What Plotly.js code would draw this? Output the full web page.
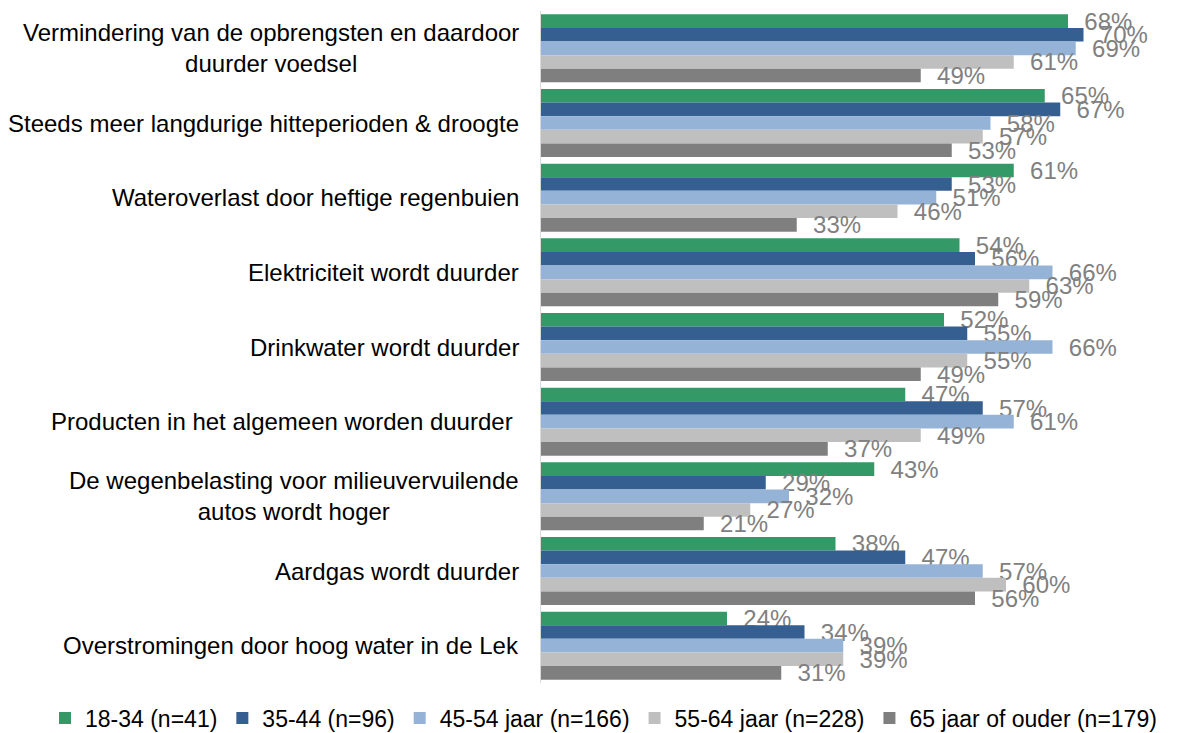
<!DOCTYPE html>
<html>
<head>
<meta charset="utf-8">
<script src="https://cdn.plot.ly/plotly-3.0.1.min.js"></script>
<style>html,body{margin:0;padding:0;background:#fff;}#chart{width:1179px;height:733px;}</style>
</head>
<body>
<div id="chart"></div>
<script>
const categories = [
  "Vermindering van de opbrengsten en daardoor<br>duurder voedsel",
  "Steeds meer langdurige hitteperioden & droogte",
  "Wateroverlast door heftige regenbuien",
  "Elektriciteit wordt duurder",
  "Drinkwater wordt duurder",
  "Producten in het algemeen worden duurder\u00a0",
  "De wegenbelasting voor milieuvervuilende<br>autos wordt hoger",
  "Aardgas wordt duurder",
  "Overstromingen door hoog water in de Lek"
];
const seriesNames = ["18-34 (n=41)", "35-44 (n=96)", "45-54 jaar (n=166)", "55-64 jaar (n=228)", "65 jaar of ouder (n=179)"];
const s18_34 = [0.68, 0.65, 0.61, 0.54, 0.52, 0.47, 0.43, 0.38, 0.24];
const s35_44 = [0.70, 0.67, 0.53, 0.56, 0.55, 0.57, 0.29, 0.47, 0.34];
const s45_54 = [0.69, 0.58, 0.51, 0.66, 0.66, 0.61, 0.32, 0.57, 0.39];
const s55_64 = [0.61, 0.57, 0.46, 0.63, 0.55, 0.49, 0.27, 0.60, 0.39];
const s65plus = [0.49, 0.53, 0.33, 0.59, 0.49, 0.37, 0.21, 0.56, 0.31];
const seriesValues = [s18_34, s35_44, s45_54, s55_64, s65plus];
const colors = ["#339966", "#355f91", "#95b3d7", "#bfbfbf", "#7f7f7f"];

const FONT = "Liberation Sans, Arial, sans-serif";

const traces = seriesValues.map((vals, i) => ({
  type: "bar",
  orientation: "h",
  name: seriesNames[i],
  y: categories,
  x: vals,
  marker: {color: colors[i], line: {width: 0}},
  text: vals.map(v => "\u00a0\u00a0" + Math.round(v * 100) + "%"),
  textposition: "outside",
  textfont: {family: FONT, size: 24, color: "#808080"},
  constraintext: "none",
  cliponaxis: false,
  hoverinfo: "x+name"
}));

const annotations = categories.map(c => ({
  xref: "paper", yref: "y",
  x: 0, y: c,
  xshift: -20,
  xanchor: "right", yanchor: "middle",
  align: "center",
  text: c,
  showarrow: false,
  font: {family: FONT, size: 24, color: "#000000"}
}));

const layout = {
  width: 1179, height: 733,
  margin: {l: 541, r: 18, t: 11, b: 50, autoexpand: false},
  paper_bgcolor: "#ffffff",
  plot_bgcolor: "#ffffff",
  barmode: "group",
  bargap: 0.09,
  bargroupgap: 0,
  font: {family: FONT, size: 24, color: "#000"},
  xaxis: {range: [0, 0.8], showgrid: false, zeroline: false, showticklabels: false, showline: false, fixedrange: true},
  yaxis: {autorange: "reversed", showticklabels: false, showline: true, linecolor: "#d9d9d9", linewidth: 1, ticks: "", showgrid: false, zeroline: false},
  showlegend: true,
  legend: {
    orientation: "h",
    xref: "paper", yref: "paper",
    x: -0.8, xanchor: "left",
    y: -0.052, yanchor: "middle",
    font: {family: FONT, size: 23, color: "#000"},
    traceorder: "normal",
    itemwidth: 30,
    borderwidth: 0,
    tracegroupgap: 0
  },
  annotations: annotations
};

Plotly.newPlot("chart", traces, layout, {displayModeBar: false, staticPlot: true});
</script>
</body>
</html>
